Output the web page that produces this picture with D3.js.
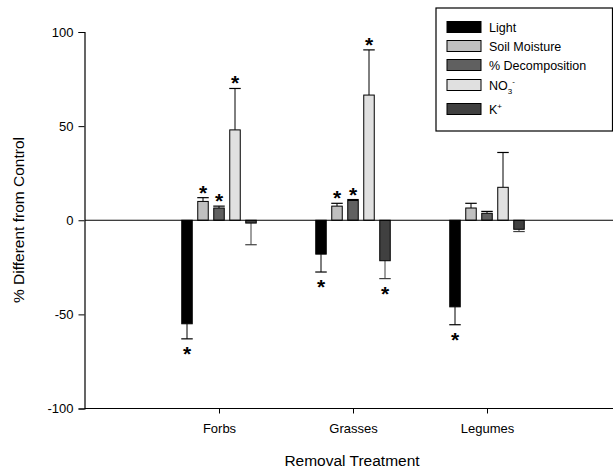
<!DOCTYPE html>
<html>
<head>
<meta charset="utf-8">
<script src="https://cdn.jsdelivr.net/npm/d3@7"></script>
<style>
  body { margin: 0; background: #fff; }
  svg { font-family: Arial, "Liberation Sans", sans-serif; }
</style>
</head>
<body>
<div id="chart"></div>
<script>
// --- data ---
const groups = ["Forbs", "Grasses", "Legumes"];
const series = ["Light", "Soil Moisture", "% Decomposition", "NO3", "K"];
const fills = ["#000000", "#c0c0c0", "#606060", "#e0e0e0", "#404040"];

// mean % difference per series, one value per group
const light = [-55, -18, -46];
const soilMoisture = [10, 7.5, 6.5];
const decomposition = [6.5, 10.5, 3.7];
const nitrate = [48, 66.5, 17.5];
const potassium = [-1.5, -21.5, -4.8];
const values = [light, soilMoisture, decomposition, nitrate, potassium];

// standard error (drawn away from zero)
const errLight = [8, 9.5, 9.5];
const errSoil = [2, 1.5, 2.5];
const errDecomp = [1, 0.5, 1];
const errNitrate = [22, 24, 18.5];
const errPot = [11.5, 9.5, 1.2];
const errors = [errLight, errSoil, errDecomp, errNitrate, errPot];

// significance markers
const sigLight = [true, true, true];
const sigSoil = [true, true, false];
const sigDecomp = [true, true, false];
const sigNitrate = [true, true, false];
const sigPot = [false, true, false];
const sig = [sigLight, sigSoil, sigDecomp, sigNitrate, sigPot];

const yTicks = [-100, -50, 0, 50, 100];

const W = 613, H = 469;
const svg = d3.select("#chart").append("svg").attr("width", W).attr("height", H);

const x = d3.scaleLinear().domain([0, 4]).range([85, 621]);
const y = d3.scaleLinear().domain([-100, 100]).range([408.5, 32]);
const step = 16, bw = 10.5;

// bars, errors, stars
const rows = [];
series.forEach((s, si) => {
  groups.forEach((g, gi) => {
    rows.push({ si, gi, v: values[si][gi], e: errors[si][gi], sig: sig[si][gi] });
  });
});

const cx = d => x(d.gi + 1) + (d.si - 2) * step;
const tip = d => d.v >= 0 ? d.v + d.e : d.v - d.e;

const bars = svg.append("g");
bars.selectAll("line.err").data(rows).join("line")
  .attr("x1", cx).attr("x2", cx)
  .attr("y1", d => y(d.v)).attr("y2", d => y(tip(d)))
  .attr("stroke", d => d.si === 4 ? "#404040" : "#000").attr("stroke-width", 1);
bars.selectAll("line.cap").data(rows).join("line")
  .attr("x1", d => cx(d) - bw / 2 - 0.5).attr("x2", d => cx(d) + bw / 2 + 0.5)
  .attr("y1", d => y(tip(d))).attr("y2", d => y(tip(d)))
  .attr("stroke", d => d.si === 4 ? "#404040" : "#000").attr("stroke-width", 1.2);
bars.selectAll("rect").data(rows).join("rect")
  .attr("x", d => cx(d) - bw / 2)
  .attr("width", bw)
  .attr("y", d => y(Math.max(0, d.v)))
  .attr("height", d => Math.abs(y(d.v) - y(0)))
  .attr("fill", d => fills[d.si])
  .attr("stroke", "#000").attr("stroke-width", 1);
bars.selectAll("text.star").data(rows.filter(d => d.sig)).join("text")
  .attr("x", cx)
  .attr("y", d => d.v >= 0 ? y(tip(d)) + 2 : y(tip(d)) + 22)
  .attr("text-anchor", "middle")
  .attr("font-size", 21).attr("font-weight", "bold")
  .text("*");

// zero line
svg.append("line").attr("x1", x(0)).attr("x2", W).attr("y1", y(0)).attr("y2", y(0))
  .attr("stroke", "#000").attr("stroke-width", 1);

// y axis
const yAxis = svg.append("g").attr("transform", `translate(${x(0) - 0.5},0)`)
  .call(d3.axisLeft(y).tickValues(yTicks).tickSize(6).tickPadding(5).tickFormat(d => String(d)));
yAxis.selectAll("text").attr("font-size", 13).attr("fill", "#000").attr("font-family", "Arial, 'Liberation Sans', sans-serif");
yAxis.select(".domain").attr("stroke-width", 1.2);

// x axis
const xAxis = svg.append("g").attr("transform", `translate(0,${y(-100)})`)
  .call(d3.axisBottom(x).tickValues([1, 2, 3]).tickSize(5).tickPadding(10)
    .tickFormat(d => groups[d - 1]));
xAxis.selectAll("text").attr("font-size", 13).attr("fill", "#000").attr("font-family", "Arial, 'Liberation Sans', sans-serif");
xAxis.select(".domain").attr("d", `M${x(0) - 0.5},0H${W}`).attr("stroke-width", 1.2);

// axis titles
svg.append("text").attr("x", 352).attr("y", 466).attr("text-anchor", "middle")
  .attr("font-size", 15.5).text("Removal Treatment");
svg.append("text").attr("transform", "translate(24,220) rotate(-90)").attr("text-anchor", "middle")
  .attr("font-size", 15.5).text("% Different from Control");

// legend
const lg = svg.append("g");
lg.append("rect").attr("x", 436).attr("y", 8).attr("width", 176.5).attr("height", 123)
  .attr("fill", "#fff").attr("stroke", "#000").attr("stroke-width", 1.2);
const legendY = [27, 46, 65, 85, 109];
series.forEach((s, i) => {
  lg.append("rect").attr("x", 447).attr("y", legendY[i] - 5.5).attr("width", 34).attr("height", 11)
    .attr("fill", fills[i]).attr("stroke", "#000").attr("stroke-width", 1);
  const t = lg.append("text").attr("x", 489).attr("y", legendY[i] + 4.5).attr("font-size", 12.5);
  if (s === "NO3") {
    t.append("tspan").text("NO");
    t.append("tspan").attr("font-size", 8).attr("dy", 4).text("3");
    t.append("tspan").attr("font-size", 8).attr("dy", -10).text("-");
  } else if (s === "K") {
    t.append("tspan").text("K");
    t.append("tspan").attr("font-size", 8).attr("dy", -5).text("+");
  } else {
    t.text(s);
  }
});
</script>
</body>
</html>
